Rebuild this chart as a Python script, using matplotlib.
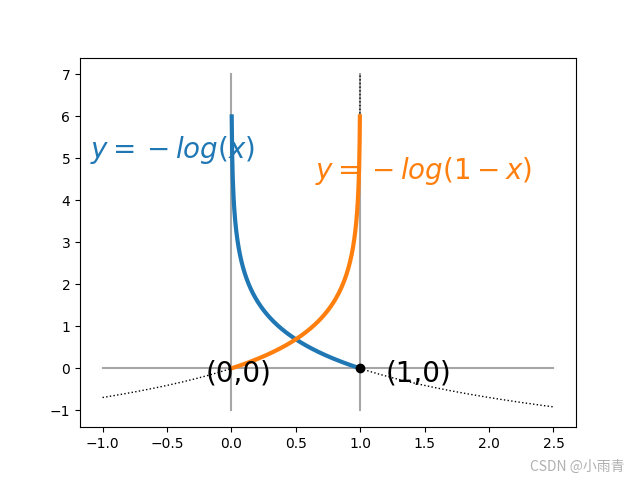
import numpy as np
import matplotlib.pyplot as plt

# curve ends and label positions
x_blue = np.linspace(np.exp(-6), 1, 500)
x_orange = np.linspace(0, 1 - np.exp(-6), 500)
x_dot_left = np.linspace(-1, 1 - np.exp(-7), 2000)
x_dot_right = np.linspace(1, 2.5, 200)

fig, ax = plt.subplots(figsize=(6.4, 4.8), dpi=100)

ax.plot([0, 0], [-1, 7], color='gray', alpha=0.7, lw=1.5)
ax.plot([1, 1], [-1, 7], color='gray', alpha=0.7, lw=1.5)
ax.plot([-1, 2.5], [0, 0], color='gray', alpha=0.7, lw=1.5)

ax.plot(x_dot_left, -np.log(1 - x_dot_left), 'k:', lw=1)
ax.plot(x_dot_right, -np.log(x_dot_right), 'k:', lw=1)

ax.plot(x_blue, -np.log(x_blue), color='C0', lw=3)
ax.plot(x_orange, -np.log(1 - x_orange), color='C1', lw=3)

ax.plot(1, 0, 'ko', ms=6)

ax.text(-1.1, 5.0, r'$y={} - log(x)$', color='C0', fontsize=20, zorder=1)
ax.text(0.65, 4.5, r'$y={} - log(1-x)$', color='C1', fontsize=20, zorder=1)
ax.text(-0.2, -0.3, '(0,0)', fontsize=20)
ax.text(1.2, -0.3, '(1,0)', fontsize=20)

fig.text(0.975, 0.02, 'CSDN @小雨青', color='#b0b0b0', fontsize=10, ha='right',
         family=['Noto Sans CJK SC', 'DejaVu Sans'])

plt.savefig('out.png')
